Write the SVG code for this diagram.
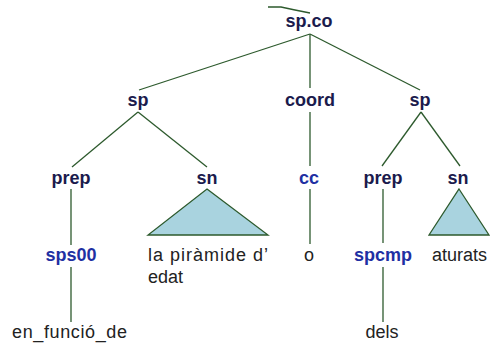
<svg xmlns="http://www.w3.org/2000/svg" width="491" height="347" viewBox="0 0 491 347">
<style>
.cat{font-family:"Liberation Sans",Arial,sans-serif;font-weight:bold;font-size:18px;fill:#1b1b4d;text-anchor:middle}
.pos{font-family:"Liberation Sans",Arial,sans-serif;font-weight:bold;font-size:18px;fill:#1f30a3;text-anchor:middle}
.word{font-family:"Liberation Sans",Arial,sans-serif;font-size:18px;fill:#222222}
.ln{stroke:#2d5a2d;stroke-width:1.3;fill:none}
.tri{fill:#a9d3df;stroke:#2d5a2d;stroke-width:1.3}
</style>
<rect width="491" height="347" fill="#ffffff"/>
<g id="connectors">
<polyline class="ln" points="268,7 281,7 295,10 310,13"/>
<line class="ln" x1="310" y1="34" x2="139" y2="90"/>
<line class="ln" x1="310" y1="34" x2="310" y2="88"/>
<line class="ln" x1="310" y1="34" x2="420" y2="90"/>
<line class="ln" x1="138" y1="112" x2="72" y2="167"/>
<line class="ln" x1="138" y1="112" x2="207" y2="167"/>
<line class="ln" x1="310" y1="112" x2="310" y2="166"/>
<line class="ln" x1="421" y1="112" x2="382" y2="166"/>
<line class="ln" x1="421" y1="112" x2="460" y2="166"/>
<line class="ln" x1="71" y1="189" x2="71" y2="245"/>
<line class="ln" x1="71" y1="267" x2="71" y2="322"/>
<line class="ln" x1="310" y1="189" x2="310" y2="244"/>
<line class="ln" x1="383" y1="189" x2="383" y2="243"/>
<line class="ln" x1="383" y1="267" x2="383" y2="322"/>
</g>
<g id="n-spco"><text class="cat" x="309" y="27">sp.co</text></g>
<g id="n-sp1"><text class="cat" x="138" y="106">sp</text></g>
<g id="n-coord"><text class="cat" x="310" y="106">coord</text></g>
<g id="n-sp2"><text class="cat" x="420" y="106">sp</text></g>
<g id="n-prep1"><text class="cat" x="71" y="184">prep</text></g>
<g id="n-sn1"><text class="cat" x="207" y="184">sn</text></g>
<g id="n-cc"><text class="pos" x="309" y="184">cc</text></g>
<g id="n-prep2"><text class="cat" x="383" y="184">prep</text></g>
<g id="n-sn2"><text class="cat" x="458" y="184">sn</text></g>
<g id="n-tri1"><polygon class="tri" points="207,189 268,235 148,235"/></g>
<g id="n-tri2"><polygon class="tri" points="459,189 489,235 429,235"/></g>
<g id="n-sps00"><text class="pos" x="71" y="261">sps00</text></g>
<g id="n-lapiramide"><text class="word" x="148" y="261" textLength="120" lengthAdjust="spacing">la piràmide d’</text><text class="word" x="148" y="283">edat</text></g>
<g id="n-o"><text class="word" x="309" y="261" text-anchor="middle">o</text></g>
<g id="n-spcmp"><text class="pos" x="383" y="261">spcmp</text></g>
<g id="n-aturats"><text class="word" x="432" y="261">aturats</text></g>
<g id="n-enfuncio"><text class="word" x="12" y="338" textLength="115" lengthAdjust="spacing">en_funció_de</text></g>
<g id="n-dels"><text class="word" x="382" y="338" text-anchor="middle">dels</text></g>
</svg>
